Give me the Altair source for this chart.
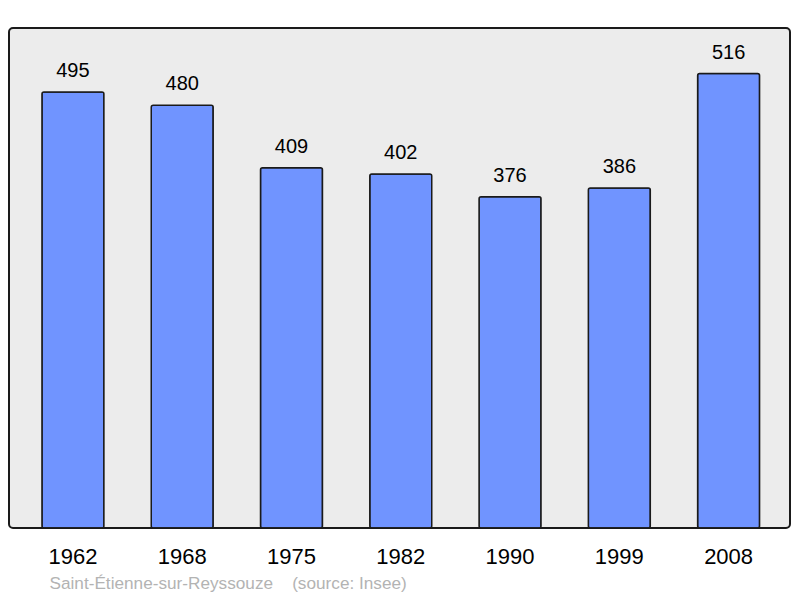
import altair as alt
import pandas as pd

years = ["1962", "1968", "1975", "1982", "1990", "1999", "2008"]
population = [495, 480, 409, 402, 376, 386, 516]
footnote = "Saint-Étienne-sur-Reyssouze" + "\u00a0" * 3 + " (source: Insee)"

df = pd.DataFrame({"year": years, "pop": population})

FONT = "Liberation Sans"

base = alt.Chart(df).encode(
    x=alt.X(
        "year:N",
        sort=years,
        scale=alt.Scale(paddingInner=0.433, paddingOuter=0.29, align=0.52),
        axis=alt.Axis(
            title=footnote,
            titleFont=FONT,
            titleFontSize=17.2,
            titleFontWeight="normal",
            titleColor="#b3b3b3",
            titleAlign="left",
            titleAnchor="start",
            titleBaseline="alphabetic",
            titleX=40,
            titleY=60,
            labelFont=FONT,
            labelFontSize=22,
            labelColor="#000000",
            labelAngle=0,
            labelBaseline="alphabetic",
            labelPadding=35,
            ticks=False,
            tickSize=0,
            domain=False,
            grid=False,
        ),
    ),
    y=alt.Y(
        "pop:Q",
        scale=alt.Scale(domain=[0, 567.7], nice=False, zero=True),
        axis=None,
    ),
)

bars = base.mark_bar(
    color="#7094ff",
    stroke="#1a1a1a",
    strokeWidth=1.5,
    cornerRadius=2,
)

labels = base.mark_text(
    font=FONT,
    fontSize=20,
    color="#000000",
    baseline="alphabetic",
    dy=-15,
).encode(text="pop:Q")

chart = (
    alt.layer(bars, labels)
    .properties(
        width=781,
        height=500,
        autosize=alt.AutoSizeParams(type="none"),
        padding={"left": 1, "top": 20, "right": 2, "bottom": 69},
        background="#ffffff",
    )
    .configure_view(
        fill="#ececec",
        stroke="#1a1a1a",
        strokeWidth=2,
        cornerRadius=4,
    )
)

chart.save("out.html", embed_options={"renderer": "svg", "actions": False})
